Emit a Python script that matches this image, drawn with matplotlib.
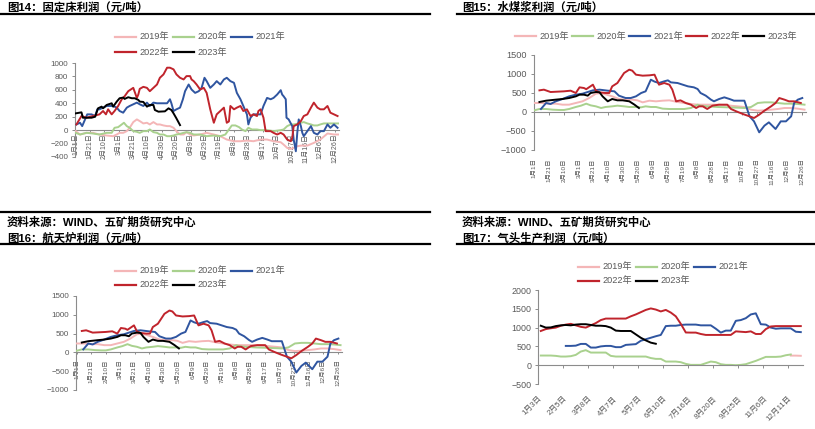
import numpy as np
import matplotlib
matplotlib.use('Agg')
import matplotlib.pyplot as plt
from matplotlib.lines import Line2D

plt.rcParams['font.family'] = ['Liberation Sans', 'Noto Sans CJK SC']
plt.rcParams['axes.unicode_minus'] = True

# ---------------- data ----------------
years = ['2019年', '2020年', '2021年', '2022年', '2023年']
colors = ['#F4B6B7', '#A9D18E', '#2F55A0', '#C0242C', '#000000']

daily_tick_days = list(range(0, 361, 20))
daily_tick_labels = ['1月1日', '1月21日', '2月10日', '3月1日', '3月21日', '4月10日', '4月30日',
                     '5月20日', '6月9日', '6月29日', '7月19日', '8月8日', '8月28日', '9月17日',
                     '10月7日', '10月27日', '11月16日', '12月6日', '12月26日']
weekly_tick_labels = ['1月3日', '2月5日', '3月8日', '4月7日', '5月7日', '6月10日', '7月16日',
                      '8月20日', '9月25日', '11月6日', '12月11日']

# 图14 固定床利润 (day of year, value)
fix_2019_d = [0, 6, 15, 24, 33, 43, 52, 57, 61, 66, 71, 75, 80, 85, 89, 94, 99, 103, 108, 113,
              117, 122, 127, 131, 136, 140, 145, 150, 154, 159, 164, 173, 182, 192, 201, 210, 220, 229, 238, 247,
              257, 266, 275, 285, 289, 294, 299, 303, 308, 313, 322, 331, 340, 350, 359, 365]
fix_2019_v = [-15, -65, -40, -40, -65, -80, -90, -65, -40, -40, -15, 35, 120, 160, 135, 100, 110, 85, 120, 85,
              85, 70, 60, 60, 35, -15, -65, -65, -30, -65, -80, -65, -40, -65, -90, -140, -165, -165, -155, -165,
              -140, -140, -165, -180, -215, -265, -280, -265, -240, -230, -230, -190, -140, -50, -65, -65]
fix_2020_d = [0, 6, 15, 24, 33, 43, 50, 54, 59, 64, 67, 71, 75, 80, 85, 89, 94, 99, 103, 108,
              113, 117, 122, 127, 131, 136, 140, 145, 150, 154, 159, 164, 173, 182, 192, 201, 208, 213, 217, 222,
              227, 231, 236, 240, 245, 252, 257, 266, 275, 285, 289, 294, 299, 303, 308, 313, 317, 322, 327, 331,
              336, 340, 345, 350, 359, 365]
fix_2020_v = [-40, -65, -40, -50, -65, -40, -40, 35, 45, 85, 110, 60, 35, -15, -25, -40, -15, -15, 10, -30,
              -40, -65, -65, -90, -90, -80, -65, -55, -40, -30, -40, -65, -65, -90, -80, -90, -65, 10, 70, 70,
              45, 10, -15, 35, 10, 10, 0, 0, -15, 0, 10, 60, 85, 85, 95, 110, 120, 100, 85, 70,
              70, 85, 100, 100, 100, 100]
fix_2021_d = [1, 6, 9, 13, 16, 22, 27, 30, 33, 38, 43, 47, 52, 57, 61, 66, 71, 75, 80, 85,
              89, 94, 99, 103, 108, 113, 117, 122, 127, 131, 133, 136, 140, 145, 149, 152, 157, 161, 166, 171,
              175, 179, 182, 187, 192, 196, 201, 206, 210, 215, 220, 224, 229, 233, 238, 240, 243, 247, 252, 257,
              261, 266, 271, 275, 280, 285, 287, 289, 292, 293, 296, 301, 303, 306, 308, 310, 313, 315, 317, 322,
              327, 331, 336, 340, 345, 350, 354, 359, 364]
fix_2021_v = [85, 110, 60, 160, 235, 235, 210, 310, 310, 335, 360, 360, 360, 335, 285, 260, 335, 360, 385, 410,
              385, 360, 410, 360, 410, 400, 400, 400, 400, 460, 400, 285, 310, 335, 460, 580, 680, 605, 555, 580,
              630, 780, 730, 630, 680, 730, 680, 755, 780, 730, 705, 555, 460, 360, 235, 85, 185, 235, 235, 235,
              360, 480, 460, 480, 530, 595, 530, 505, 460, 185, 160, 60, -140, -315, -40, 160, 60, -40, -90, -15,
              60, -40, -65, -15, -15, 85, 35, 85, 35]
fix_2022_d = [1, 8, 15, 24, 33, 38, 42, 45, 50, 54, 59, 64, 68, 73, 80, 85, 87, 89, 94, 99,
              103, 108, 113, 117, 122, 127, 131, 136, 140, 145, 150, 154, 159, 161, 164, 168, 173, 178, 182, 187,
              192, 196, 201, 206, 210, 213, 215, 220, 224, 229, 233, 238, 243, 247, 252, 254, 257, 261, 264, 271,
              275, 280, 285, 289, 294, 299, 301, 303, 308, 313, 317, 322, 327, 331, 336, 340, 345, 350, 354, 359,
              364]
fix_2022_v = [85, 210, 185, 210, 235, 285, 235, 310, 235, 285, 360, 460, 505, 580, 630, 480, 530, 615, 645, 630,
              580, 630, 680, 780, 830, 930, 930, 905, 830, 780, 755, 805, 805, 755, 730, 680, 605, 630, 555, 310,
              110, 235, 285, 335, 110, 130, 360, 310, 335, 360, 285, 310, 210, 235, 210, 285, 310, 185, -15, -15,
              -40, -65, -40, -65, -140, -165, -115, 60, 85, 135, 210, 235, 335, 410, 335, 310, 310, 360, 260, 235,
              210]
fix_2023_d = [0, 8, 10, 22, 27, 31, 36, 38, 43, 50, 52, 57, 61, 66, 68, 73, 78, 82, 87, 89,
              94, 99, 103, 108, 110, 115, 124, 129, 133, 136, 140, 145]
fix_2023_v = [250, 265, 185, 185, 200, 325, 350, 325, 375, 400, 350, 425, 475, 485, 465, 490, 475, 475, 450, 425,
              420, 350, 375, 375, 300, 275, 280, 325, 300, 250, 175, 75]

# 图15 水煤浆利润 / 图16 航天炉利润 (day of year, value)
cws_2019_d = [0, 11, 20, 29, 38, 47, 56, 65, 74, 83, 90, 96, 105, 114, 123, 132, 139, 146, 155, 164,
              173, 182, 193, 202, 211, 220, 233, 247, 260, 274, 283, 292, 301, 310, 319, 328, 337, 346, 355, 364]
cws_2019_v = [237, 237, 219, 219, 193, 193, 237, 281, 368, 482, 500, 465, 412, 342, 325, 325, 307, 254, 298, 281,
              298, 307, 263, 237, 211, 193, 193, 193, 175, 149, 132, 61, 35, 44, 61, 79, 105, 105, 88, 61]
cws_2020_d = [0, 7, 16, 25, 34, 40, 47, 56, 63, 70, 76, 83, 90, 96, 105, 112, 121, 128, 137, 144,
              150, 157, 164, 173, 182, 193, 202, 211, 220, 224, 233, 247, 260, 274, 283, 292, 301, 310, 319, 328,
              337, 346, 355, 364]
cws_2020_v = [44, 79, 79, 61, 53, 53, 79, 132, 167, 219, 175, 149, 105, 132, 149, 167, 149, 132, 132, 123,
              149, 132, 132, 88, 79, 79, 79, 105, 193, 167, 149, 132, 123, 114, 105, 132, 237, 254, 254, 237,
              219, 219, 211, 193]
cws_2021_d = [9, 16, 22, 29, 38, 47, 56, 65, 79, 88, 99, 108, 114, 123, 130, 137, 144, 150, 157, 162,
              168, 175, 180, 184, 193, 200, 207, 215, 220, 224, 231, 238, 242, 249, 256, 263, 269, 276, 283, 290,
              296, 303, 310, 316, 325, 332, 339, 346, 350, 355, 361]
cws_2021_v = [79, 237, 211, 281, 342, 412, 456, 482, 570, 588, 561, 544, 430, 368, 368, 412, 500, 544, 850, 800,
              763, 807, 833, 780, 763, 719, 675, 649, 605, 500, 430, 325, 281, 342, 386, 342, 298, 298, 298, -114,
              -246, -535, -360, -272, -447, -246, -246, -114, 237, 325, 368]
cws_2022_d = [7, 13, 22, 31, 40, 49, 56, 61, 67, 70, 79, 83, 88, 96, 101, 105, 112, 121, 128, 132,
              137, 146, 155, 162, 168, 175, 182, 186, 191, 197, 204, 211, 218, 222, 227, 233, 240, 249, 260, 265,
              272, 281, 290, 296, 303, 310, 319, 325, 330, 337, 343, 350, 359]
cws_2022_v = [570, 588, 526, 535, 544, 561, 500, 649, 631, 600, 719, 561, 517, 500, 500, 675, 763, 1026, 1114, 1088,
              982, 956, 965, 982, 719, 763, 719, 588, 281, 307, 237, 193, 105, 149, 149, 79, 167, 193, 193, 79,
              18, -53, -114, -158, -70, 35, 149, 237, 368, 325, 281, 281, 237]
cws_2023_d = [7, 16, 29, 38, 47, 56, 61, 67, 72, 76, 83, 88, 92, 99, 105, 112, 119, 128, 135, 141]
cws_2023_v = [263, 298, 325, 342, 368, 412, 456, 456, 430, 500, 526, 517, 412, 281, 342, 307, 307, 281, 193, 105]

# 图17 气头生产利润 (weekly categories; first category index, values)
gas_2019_start, gas_2019 = 50, [255, 255, 250]
gas_2020_start, gas_2020 = 0, [257, 257, 257, 248, 230, 230, 240, 274, 363, 400, 336, 336, 336, 336, 248, 230, 230,
                               230, 230, 230, 230, 230, 190, 168, 168, 97, 97, 97, 80, 35, 9, 9, 9, 53, 97, 80, 27,
                               9, 9, 0, 9, 27, 71, 115, 168, 221, 221, 221, 230, 265, 285]
gas_2021_start, gas_2021 = 5, [513, 513, 520, 566, 566, 469, 469, 500, 513, 513, 480, 480, 540, 550, 560, 650, 690,
                               730, 770, 805, 1040, 1050, 1050, 1070, 1080, 1080, 1080, 1060, 1060, 1060, 970, 867,
                               920, 920, 1180, 1200, 1250, 1350, 1380, 1090, 1080, 1000, 970, 980, 980, 980, 890, 880]
gas_2022_start, gas_2022 = 0, [910, 960, 982, 1000, 1050, 1080, 1100, 1060, 1020, 1000, 1060, 1120, 1200, 1240, 1240,
                               1240, 1240, 1240, 1300, 1350, 1410, 1470, 1510, 1480, 1430, 1470, 1400, 1300, 1100,
                               870, 867, 867, 830, 805, 805, 805, 805, 805, 805, 900, 890, 880, 900, 830, 830, 960,
                               1030, 1040, 1040, 1040, 1040, 1040, 1040]
gas_2023_start, gas_2023 = 0, [1050, 1000, 1005, 1040, 1060, 1070, 1060, 1080, 1090, 1090, 1070, 1050, 1050, 1040,
                               1000, 920, 910, 910, 910, 820, 730, 660, 600, 570]
n_weeks = 53

# ---------------- figure ----------------
W, H = 815, 429
fig = plt.figure(figsize=(W / 100, H / 100), dpi=100)

AX_C = '#8C8C8C'
TXT_C = '#595959'


def rect(l, t, r, b):
    return [l / W, 1 - b / H, (r - l) / W, (b - t) / H]


def hline(y, x0, x1, lw=1.6):
    fig.add_artist(Line2D([x0 / W, x1 / W], [1 - y / H, 1 - y / H], color='black', lw=lw,
                          transform=fig.transFigure))


def legend(items, x0, step, rows_y, per_row, L=21):
    for k, (name, c) in enumerate(items):
        r, col = divmod(k, per_row)
        x = x0 + col * step
        y = 1 - rows_y[r] / H
        fig.add_artist(Line2D([x / W, (x + L) / W], [y, y], color=c, lw=1.6, transform=fig.transFigure))
        fig.text((x + L + 3) / W, y, name, ha='left', va='center', fontsize=6.6, color=TXT_C)


def style_axes(ax, ylim, yticks, ysize):
    ax.set_ylim(*ylim)
    ax.set_yticks(yticks)
    for s in ('top', 'right'):
        ax.spines[s].set_visible(False)
    ax.spines['left'].set_color(AX_C)
    ax.spines['bottom'].set_color(AX_C)
    ax.spines['left'].set_linewidth(0.8)
    ax.spines['bottom'].set_linewidth(0.8)
    ax.spines['bottom'].set_position(('data', 0))
    ax.tick_params(axis='y', direction='out', length=2.5, width=0.7, color=AX_C,
                   labelsize=ysize, labelcolor=TXT_C, pad=2.5)
    ax.set_facecolor('none')


def daily_panel(rectpx, series, ylim, yticks, ysize, labels_low, xlabsize, xpad):
    ax = fig.add_axes(rect(*rectpx))
    for (d, v), c in zip(series, colors):
        ax.plot(d, v, color=c, lw=1.4, solid_joinstyle='round', zorder=3)
    ax.set_xlim(-1, 366)
    style_axes(ax, ylim, yticks, ysize)
    ax.set_xticks(daily_tick_days)
    if labels_low:
        ax.tick_params(axis='x', direction='out', length=2.5, width=0.7, color=AX_C, labelbottom=False)
        sec = ax.secondary_xaxis('bottom')
        sec.set_xticks(daily_tick_days, daily_tick_labels)
        sec.spines['bottom'].set_visible(False)
        sec.tick_params(axis='x', length=0, labelsize=xlabsize, labelcolor=TXT_C, pad=xpad,
                        labelrotation=90)
    else:
        ax.set_axisbelow(True)
        ax.set_xticklabels(daily_tick_labels)
        ax.tick_params(axis='x', direction='out', length=1.5, width=0.7, color=AX_C,
                       labelsize=xlabsize, labelcolor=TXT_C, pad=xpad, labelrotation=90)
    return ax


# header lines and titles
for y in (14, 212, 244):
    hline(y, 0, 430)
    hline(y, 457, 815)

TFS = 8.2
TW = 'bold'
fig.text(7 / W, 1 - 7.5 / H, '图14：固定床利润（元/吨）', fontsize=TFS, va='center', ha='left', weight=TW)
fig.text(462 / W, 1 - 7.5 / H, '图15：水煤浆利润（元/吨）', fontsize=TFS, va='center', ha='left', weight=TW)
fig.text(7 / W, 1 - 222.5 / H, '资料来源：WIND、五矿期货研究中心', fontsize=TFS, va='center', ha='left', weight=TW)
fig.text(462 / W, 1 - 222.5 / H, '资料来源：WIND、五矿期货研究中心', fontsize=TFS, va='center', ha='left', weight=TW)
fig.text(7 / W, 1 - 238.5 / H, '图16：航天炉利润（元/吨）', fontsize=TFS, va='center', ha='left', weight=TW)
fig.text(462 / W, 1 - 238.5 / H, '图17：气头生产利润（元/吨）', fontsize=TFS, va='center', ha='left', weight=TW)

fix_series = [(fix_2019_d, fix_2019_v), (fix_2020_d, fix_2020_v), (fix_2021_d, fix_2021_v),
              (fix_2022_d, fix_2022_v), (fix_2023_d, fix_2023_v)]
cws_series = [(cws_2019_d, cws_2019_v), (cws_2020_d, cws_2020_v), (cws_2021_d, cws_2021_v),
              (cws_2022_d, cws_2022_v), (cws_2023_d, cws_2023_v)]

# Panel 14
daily_panel((75, 63, 339, 157), fix_series, (-400, 1000), list(range(-400, 1001, 200)), 5.8,
            False, 5.0, 1.0)
legend(list(zip(years, colors)), 115, 58, [37, 52], 3)

# Panel 15
daily_panel((533.5, 55, 806, 150), cws_series, (-1000, 1500), list(range(-1000, 1501, 500)), 6.6,
            True, 4.6, 6.0)
legend(list(zip(years, colors)), 515, 57, [36], 5)

# Panel 16
daily_panel((76, 296, 342, 390), cws_series, (-1000, 1500), list(range(-1000, 1501, 500)), 5.8,
            False, 4.6, 3.5)
legend(list(zip(years, colors)), 115, 58, [271, 285], 3)

# Panel 17
ax4 = fig.add_axes(rect(538.3, 290, 803.3, 384))
gas = [(gas_2019_start, gas_2019), (gas_2020_start, gas_2020), (gas_2021_start, gas_2021),
       (gas_2022_start, gas_2022), (gas_2023_start, gas_2023)]
for (s, v), c in zip(gas, colors):
    x = s + np.arange(len(v)) + 0.5
    ax4.plot(x, v, color=c, lw=1.4, solid_joinstyle='round')
ax4.set_xlim(0, n_weeks)
style_axes(ax4, (-500, 2000), list(range(-500, 2001, 500)), 6.4)
wk_ticks = list(range(0, 5 * len(weekly_tick_labels), 5))
ax4.set_xticks(wk_ticks)
ax4.tick_params(axis='x', direction='out', length=2.5, width=0.7, color=AX_C, labelbottom=False)
sec4 = ax4.secondary_xaxis('bottom')
sec4.set_xticks(wk_ticks)
sec4.set_xticklabels(weekly_tick_labels, rotation=45, ha='right', va='top', rotation_mode='anchor')
sec4.spines['bottom'].set_visible(False)
sec4.tick_params(axis='x', length=0, labelsize=5.6, labelcolor=TXT_C, pad=8)
legend(list(zip(years, colors)), 578, 58, [267, 281], 3)

fig.savefig('out.png', dpi=100)
